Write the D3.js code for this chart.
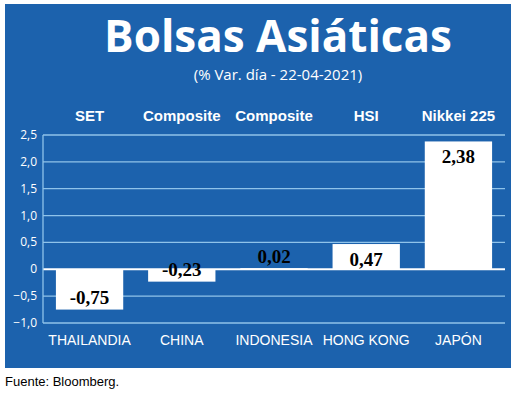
<!DOCTYPE html>
<html lang="es">
<head>
<meta charset="UTF-8">
<title>Bolsas Asiáticas</title>
<script src="https://d3js.org/d3.v7.min.js"></script>
<style>body{margin:0;background:#fff}</style>
</head>
<body>
<script>
    const countries = ["THAILANDIA", "CHINA", "INDONESIA", "HONG KONG", "JAPÓN"];
    const indices = ["SET", "Composite", "Composite", "HSI", "Nikkei 225"];
    const values = [-0.75, -0.23, 0.02, 0.47, 2.38];
    const tickValues = [-1.0, -0.5, 0, 0.5, 1.0, 1.5, 2.0, 2.5];

    const W = 520, H = 404, BLUE = "#1c62ad", GRID = "#8fc3ea";
    const svg = d3.select("body").append("svg").attr("width", W).attr("height", H);
    svg.append("rect").attr("x", 5).attr("y", 4).attr("width", 506).attr("height", 364).attr("fill", BLUE);

    svg.append("text").text("Bolsas Asiáticas").attr("x", 278).attr("y", 52)
        .attr("text-anchor", "middle").attr("fill", "#fff")
        .style("font", "bold 44px 'Open Sans', sans-serif");
    svg.append("text").text("(% Var. día - 22-04-2021)").attr("x", 278).attr("y", 80)
        .attr("text-anchor", "middle").attr("fill", "#fff")
        .style("font", "15px 'Liberation Sans Narrow', 'Open Sans', sans-serif");

    const y = d3.scaleLinear().domain([-1, 2.5]).range([323, 135]);
    const x = d3.scaleBand().domain(d3.range(countries.length)).range([43, 505]).paddingInner(0.27).paddingOuter(0.14);

    // grid
    svg.selectAll(".grid").data(tickValues).join("line")
        .attr("x1", 43).attr("x2", 505).attr("y1", d => y(d)).attr("y2", d => y(d))
        .attr("stroke", d => d === 0 ? "#fff" : GRID).attr("stroke-width", d => d === 0 ? 2 : 1.3);
    svg.append("line").attr("x1", 43).attr("x2", 43).attr("y1", y(2.5)).attr("y2", y(-1))
        .attr("stroke", GRID).attr("stroke-width", 1.3);

    const fmt = v => (v === 0 ? "0" : d3.format(".1f")(v)).replace(".", ",");
    svg.selectAll(".tick").data(tickValues).join("text")
        .attr("x", 37).attr("y", d => y(d) + 4).attr("text-anchor", "end").attr("fill", "#fff")
        .style("font", "12px 'Open Sans', sans-serif").text(fmt);

    svg.selectAll(".bar").data(values).join("rect")
        .attr("x", (d, i) => x(i)).attr("width", x.bandwidth())
        .attr("y", d => y(Math.max(0, d))).attr("height", d => Math.abs(y(d) - y(0)))
        .attr("fill", "#fff");

    svg.selectAll(".val").data(values).join("text")
        .attr("x", (d, i) => x(i) + x.bandwidth() / 2)
        .attr("y", d => d < 0 ? y(d) - 6 : (y(d) + 18 > y(0) - 2 ? y(0) - 6 : y(d) + 22))
        .attr("text-anchor", "middle").attr("fill", "#000")
        .style("font", "bold 19px 'Liberation Serif', serif")
        .text(d => d.toFixed(2).replace(".", ","));

    svg.selectAll(".idx").data(indices).join("text")
        .attr("x", (d, i) => x(i) + x.bandwidth() / 2).attr("y", 121)
        .attr("text-anchor", "middle").attr("fill", "#fff")
        .style("font", "bold 15px 'Liberation Sans Narrow', sans-serif").text(d => d);

    svg.selectAll(".cty").data(countries).join("text")
        .attr("x", (d, i) => x(i) + x.bandwidth() / 2).attr("y", 345)
        .attr("text-anchor", "middle").attr("fill", "#fff")
        .style("font", "14px 'Liberation Sans Narrow', sans-serif").text(d => d);

    svg.append("text").text("Fuente: Bloomberg.").attr("x", 5).attr("y", 386)
        .attr("fill", "#000").style("font", "13px 'Liberation Sans Narrow', sans-serif");
</script>
</body>
</html>
